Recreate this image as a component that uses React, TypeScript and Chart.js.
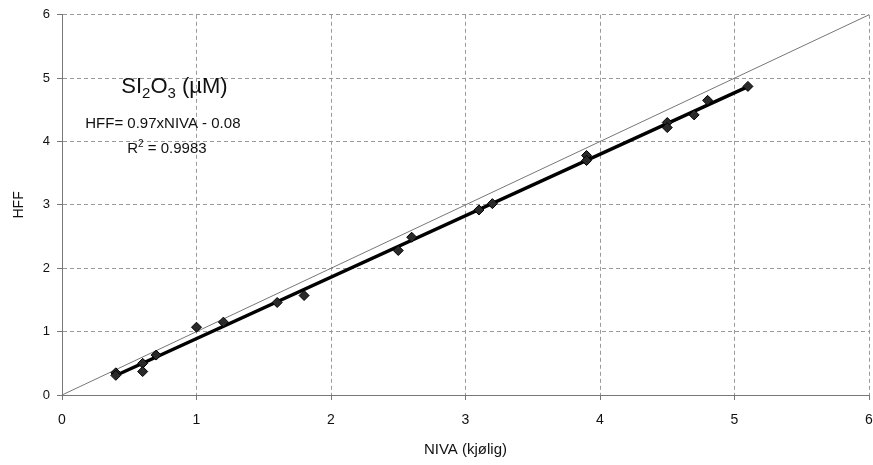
import React, { useEffect, useRef } from "react";
import { Chart, registerables } from "chart.js";

Chart.register(...registerables);

// ---- data ----
const nivaValues = [0.4, 0.4, 0.6, 0.6, 0.7, 1.0, 1.2, 1.6, 1.8, 2.5, 2.6, 3.1, 3.2, 3.9, 3.9, 4.5, 4.5, 4.7, 4.8, 5.1];
const hffValues = [0.35, 0.31, 0.5, 0.37, 0.63, 1.07, 1.15, 1.46, 1.57, 2.28, 2.49, 2.92, 3.02, 3.78, 3.7, 4.3, 4.22, 4.42, 4.65, 4.87];
const fitSlope = 0.97;
const fitIntercept = -0.08;
const fitRange = [0.4, 5.1];
const identityRange = [0, 6];
const axisTicks = [0, 1, 2, 3, 4, 5, 6];
const xTitle = "NIVA (kjølig)";
const yTitle = "HFF";
const eqText = "HFF= 0.97xNIVA - 0.08";
const r2Value = "0.9983";

const FONT = "'Liberation Sans', Arial, sans-serif";

const annotationPlugin = {
  id: "annot",
  afterDatasetsDraw(chart: any) {
    const { ctx, scales } = chart;
    const xs = scales.x;
    const ys = scales.y;
    ctx.save();
    ctx.fillStyle = "#111";
    ctx.textBaseline = "alphabetic";
    // Title SI2O3 (µM)
    const big = `22px ${FONT}`;
    const sub = `15px ${FONT}`;
    const parts: [string, string, number][] = [
      ["SI", big, 0],
      ["2", sub, 5],
      ["O", big, 0],
      ["3", sub, 5],
      [" (µM)", big, 0],
    ];
    let total = 0;
    for (const [t, f] of parts) {
      ctx.font = f;
      total += ctx.measureText(t).width;
    }
    let cx = xs.getPixelForValue(0.836) - total / 2;
    const by = ys.getPixelForValue(4.76);
    ctx.textAlign = "left";
    for (const [t, f, dy] of parts) {
      ctx.font = f;
      ctx.fillText(t, cx, by + dy);
      cx += ctx.measureText(t).width;
    }
    // equation
    ctx.font = `15px ${FONT}`;
    ctx.textAlign = "center";
    ctx.fillText(eqText, xs.getPixelForValue(0.75), ys.getPixelForValue(4.21));
    // R^2
    const rParts: [string, string, number][] = [
      ["R", `15px ${FONT}`, 0],
      ["2", `10px ${FONT}`, -6],
      [" = " + r2Value, `15px ${FONT}`, 0],
    ];
    let rt = 0;
    for (const [t, f] of rParts) {
      ctx.font = f;
      rt += ctx.measureText(t).width;
    }
    let rx = xs.getPixelForValue(0.78) - rt / 2;
    const ry = ys.getPixelForValue(3.82);
    ctx.textAlign = "left";
    for (const [t, f, dy] of rParts) {
      ctx.font = f;
      ctx.fillText(t, rx, ry + dy);
      rx += ctx.measureText(t).width;
    }
    ctx.restore();
  },
};

export default function App() {
  const ref = useRef<HTMLCanvasElement | null>(null);
  useEffect(() => {
    if (!ref.current) return;
    const points = nivaValues.map((x, i) => ({ x, y: hffValues[i] }));
    const fit = fitRange.map((x) => ({ x, y: fitSlope * x + fitIntercept }));
    const identity = identityRange.map((x) => ({ x, y: x }));
    const gridCommon = {
      color: "#9a9a9a",
      lineWidth: 1,
      tickLength: 5,
      tickColor: "#777",
      tickBorderDash: [],
      drawTicks: true,
    };
    const borderCommon = { display: true, color: "#777", width: 1, dash: [4, 3] };
    const chart = new Chart(ref.current, {
      type: "scatter",
      data: {
        datasets: [
          {
            data: points,
            pointStyle: "rectRot",
            pointRadius: 5,
            backgroundColor: "#2a2a2a",
            borderColor: "#000",
            borderWidth: 1,
            showLine: false,
          },
          {
            data: fit,
            showLine: true,
            borderColor: "#000",
            borderWidth: 3.5,
            pointRadius: 0,
          },
          {
            data: identity,
            showLine: true,
            borderColor: "#777",
            borderWidth: 1,
            pointRadius: 0,
          },
        ],
      },
      options: {
        animation: false,
        responsive: false,
        devicePixelRatio: 1,
        layout: { padding: { left: 0, right: 16, top: 13, bottom: 0 } },
        plugins: { legend: { display: false }, tooltip: { enabled: false } },
        scales: {
          x: {
            type: "linear",
            min: 0,
            max: 6,
            afterBuildTicks: (s: any) => {
              s.ticks = axisTicks.map((v) => ({ value: v }));
            },
            afterFit: (s: any) => {
              s.height = 70;
            },
            grid: gridCommon,
            border: borderCommon,
            ticks: { color: "#111", font: { family: FONT, size: 14 }, padding: 12, maxRotation: 0 },
            title: {
              display: true,
              text: xTitle,
              color: "#111",
              font: { family: FONT, size: 15 },
              padding: { top: 0, bottom: 6 },
            },
          },
          y: {
            type: "linear",
            min: 0,
            max: 6,
            afterBuildTicks: (s: any) => {
              s.ticks = axisTicks.map((v) => ({ value: v }));
            },
            afterFit: (s: any) => {
              s.width = 62;
            },
            grid: gridCommon,
            border: borderCommon,
            ticks: { color: "#111", font: { family: FONT, size: 13 }, padding: 7 },
            title: {
              display: true,
              text: yTitle,
              color: "#111",
              font: { family: FONT, size: 14 },
              padding: { top: 11, bottom: 0 },
            },
          },
        },
      },
      plugins: [annotationPlugin],
    } as any);
    return () => chart.destroy();
  }, []);
  return (
    <div
      style={{
        position: "absolute",
        left: 0,
        top: 0,
        width: 873,
        height: 465,
        overflow: "hidden",
        background: "#fff",
      }}
    >
      <canvas ref={ref} width={885} height={465} style={{ width: 885, height: 465, display: "block" }} />
    </div>
  );
}
